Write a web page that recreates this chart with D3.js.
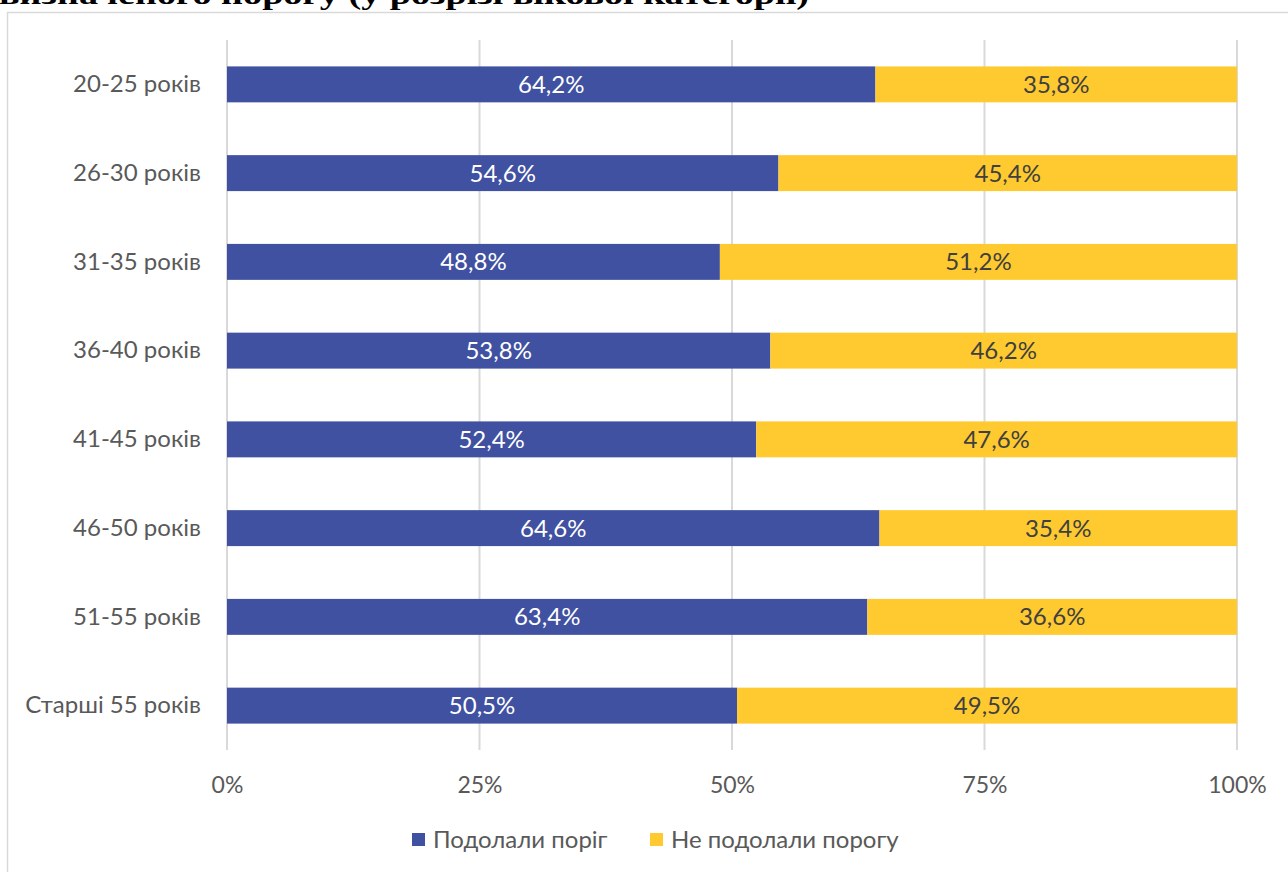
<!DOCTYPE html>
<html><head><meta charset="utf-8">
<script src="https://cdn.jsdelivr.net/npm/d3@7"></script>
<style>html,body{margin:0;padding:0;background:#fff;overflow:hidden}</style>
</head><body>
<svg id="c" width="1288" height="872"></svg>
<script>
const categories = ["20-25 років","26-30 років","31-35 років","36-40 років","41-45 років","46-50 років","51-55 років","Старші 55 років"];
const passed = [64.2, 54.6, 48.8, 53.8, 52.4, 64.6, 63.4, 50.5];
const failed = [35.8, 45.4, 51.2, 46.2, 47.6, 35.4, 36.6, 49.5];
const seriesNames = ["Подолали поріг", "Не подолали порогу"];
const tickValues = [0, 25, 50, 75, 100];
const titleText = "визначеного порогу (у розрізі вікової категорії)";

const colors = ["#3F51A0", "#FFCA2F"];
const font = "Lato, 'Open Sans', sans-serif";
const svg = d3.select("#c");

// title (clipped at top)
svg.append("text").attr("x", -1).attr("y", 4)
  .attr("font-family", "'Liberation Serif', 'Times New Roman', serif")
  .attr("font-weight", "bold").attr("font-size", 28)
  .attr("textLength", 810).attr("lengthAdjust", "spacingAndGlyphs")
  .attr("fill", "#000").text(titleText);

// chart frame
svg.append("rect").attr("x", 7.5).attr("y", 12.5).attr("width", 1300).attr("height", 900)
  .attr("fill", "none").attr("stroke", "#d9d9d9").attr("stroke-width", 1.5);

const x = d3.scaleLinear().domain([0, 100]).range([227, 1237]);
const y = d3.scaleBand().domain(categories).range([40, 750]).paddingInner(0.595).paddingOuter(0.2975);

// gridlines
svg.append("g").selectAll("line").data(tickValues).join("line")
  .attr("x1", d => x(d)).attr("x2", d => x(d)).attr("y1", 40).attr("y2", 750)
  .attr("stroke", "#d9d9d9").attr("stroke-width", 2);

// x axis labels
const xAxis = d3.axisBottom(x).tickValues(tickValues).tickFormat(d => d + "%").tickSize(0).tickPadding(0);
const gx = svg.append("g").attr("transform", "translate(0,785)").call(xAxis);
gx.select(".domain").remove();
gx.selectAll("text").attr("font-family", font).attr("font-size", 23).attr("fill", "#595959")
  .attr("dy", "0.35em").attr("y", 0);

// y axis labels
const yAxis = d3.axisLeft(y).tickSize(0).tickPadding(0);
const gy = svg.append("g").attr("transform", "translate(201,0)").call(yAxis);
gy.select(".domain").remove();
gy.selectAll("text").attr("font-family", font).attr("font-size", 24).attr("fill", "#595959");

const rows = categories.map((c, i) => ({c, a: passed[i], b: failed[i]}));

// bars
svg.append("g").selectAll("rect").data(rows).join("rect")
  .attr("x", x(0)).attr("y", d => y(d.c)).attr("width", d => x(d.a) - x(0)).attr("height", y.bandwidth())
  .attr("fill", colors[0]);
svg.append("g").selectAll("rect").data(rows).join("rect")
  .attr("x", d => x(d.a)).attr("y", d => y(d.c)).attr("width", d => x(d.a + d.b) - x(d.a)).attr("height", y.bandwidth())
  .attr("fill", colors[1]);

const fmt = v => v.toFixed(1).replace(".", ",") + "%";
svg.append("g").selectAll("text").data(rows).join("text")
  .attr("x", d => x(d.a / 2)).attr("y", d => y(d.c) + y.bandwidth() / 2).attr("dy", "0.35em")
  .attr("text-anchor", "middle").attr("font-family", font).attr("font-size", 24).attr("fill", "#fff")
  .text(d => fmt(d.a));
svg.append("g").selectAll("text").data(rows).join("text")
  .attr("x", d => x(d.a + d.b / 2)).attr("y", d => y(d.c) + y.bandwidth() / 2).attr("dy", "0.35em")
  .attr("text-anchor", "middle").attr("font-family", font).attr("font-size", 24).attr("fill", "#404040")
  .text(d => fmt(d.b));

// legend
const legendX = [412, 650];
const lg = svg.append("g").selectAll("g").data(seriesNames).join("g")
  .attr("transform", (d, i) => `translate(${legendX[i]},840)`);
lg.append("rect").attr("x", 0).attr("y", -7).attr("width", 13).attr("height", 13).attr("fill", (d, i) => colors[i]);
lg.append("text").attr("x", 21).attr("y", 0).attr("dy", "0.35em").attr("font-family", font)
  .attr("font-size", 24).attr("fill", "#595959").text(d => d);
</script>
</body></html>
